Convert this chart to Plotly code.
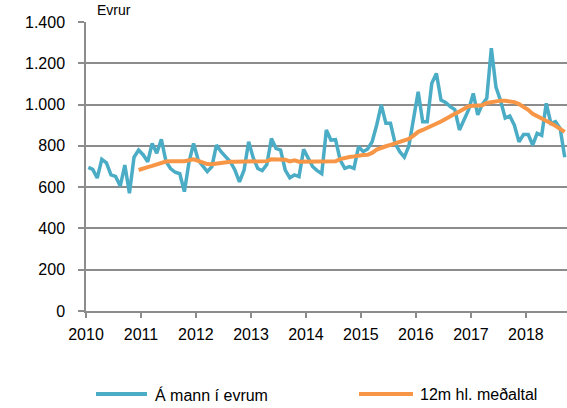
import pandas as pd
import plotly.graph_objects as go

# ---- data (monthly, Jan 2010 - Sep 2018) ----
months = pd.date_range("2010-01-01", periods=105, freq="MS")

per_person = [
    # 2010
    696, 686, 644, 735, 718, 659, 652, 605, 707, 570, 745, 780,
    # 2011
    756, 723, 812, 764, 832, 725, 690, 672, 665, 578, 720, 812,
    # 2012
    731, 700, 675, 699, 804, 772, 745, 723, 683, 626, 683, 820,
    # 2013
    740, 690, 680, 710, 836, 788, 780, 683, 645, 659, 651, 783,
    # 2014
    740, 699, 680, 665, 877, 828, 830, 731, 691, 699, 691, 796,
    # 2015
    772, 785, 820, 901, 998, 909, 909, 812, 772, 745, 800, 930,
    # 2016
    1062, 917, 917, 1103, 1151, 1022, 1010, 990, 976, 877, 930, 975,
    # 2017
    1054, 950, 1000, 1030, 1273, 1085, 1020, 935, 945, 900, 820, 855,
    # 2018
    855, 804, 861, 851, 1006, 909, 917, 885, 745,
]

moving_avg = [None] * 11 + [
    683,
    # 2011
    688, 697, 703, 710, 714, 724, 725, 725, 725, 726, 730, 735,
    # 2012
    727, 720, 712, 711, 715, 718, 721, 723, 723, 723, 723, 724,
    # 2013
    724, 724, 725, 726, 735, 735, 734, 733, 725, 730, 723, 723,
    # 2014
    723, 722, 722, 722, 722, 723, 725, 736, 742, 746, 749, 754,
    # 2015
    756, 757, 766, 782, 792, 798, 805, 812, 819, 826, 834, 850,
    # 2016
    868, 877, 886, 897, 909, 918, 930, 940, 955, 966, 980, 992,
    # 2017
    994, 995, 997, 1008, 1013, 1017, 1019, 1018, 1017, 1012, 1003, 990,
    # 2018
    975, 955, 945, 935, 922, 910, 897, 882, 868,
]

y_tickvals = [0, 200, 400, 600, 800, 1000, 1200, 1400]
y_ticktext = ["0", "200", "400", "600", "800", "1.000", "1.200", "1.400"]

series_names = ["Á mann í evrum", "12m hl. meðaltal"]
series_colors = ["#4BACC6", "#F79646"]
y_title = "Evrur"

FONT = "Liberation Sans"
GRID = "#8C8C8C"

fig = go.Figure()
fig.add_trace(go.Scatter(
    x=months, y=per_person, mode="lines", name=series_names[0],
    xperiod="M1", xperiodalignment="middle",
    line=dict(color=series_colors[0], width=3.5), showlegend=False,
))
fig.add_trace(go.Scatter(
    x=months, y=moving_avg, mode="lines", name=series_names[1],
    xperiod="M1", xperiodalignment="middle",
    line=dict(color=series_colors[1], width=4), showlegend=False,
))

fig.update_layout(
    width=567, height=408,
    margin=dict(l=86, r=0, t=22, b=97, autoexpand=False),
    paper_bgcolor="white", plot_bgcolor="white",
    font=dict(family=FONT, size=16, color="#000000"),
    xaxis=dict(
        type="date",
        range=["2010-01-01", "2018-10-01"],
        tick0="2010-01-01", dtick="M12", tickformat="%Y",
        showgrid=False, zeroline=False, automargin=False,
        showline=True, linecolor=GRID, linewidth=1.5,
        ticks="outside", ticklen=5, tickwidth=1.5, tickcolor=GRID,
        ticklabelstandoff=3,
        tickfont=dict(family=FONT, size=16, color="#000000"),
    ),
    yaxis=dict(
        range=[0, 1400], automargin=False,
        tickmode="array", tickvals=y_tickvals, ticktext=y_ticktext,
        showgrid=True, gridcolor=GRID, gridwidth=1.5,
        zeroline=False,
        showline=True, linecolor=GRID, linewidth=1.5,
        ticks="outside", ticklen=6, tickwidth=1.5, tickcolor=GRID,
        ticklabelstandoff=10,
        tickfont=dict(family=FONT, size=16, color="#000000"),
    ),
)

# axis unit label
fig.add_annotation(
    text=y_title, xref="paper", yref="paper", x=0.0187, y=1.0415,
    xanchor="left", yanchor="middle", showarrow=False,
    font=dict(family=FONT, size=14, color="#000000"),
)

# legend drawn beneath the chart
legend_items = [
    (series_names[0], series_colors[0], 0.0208, 0.1268, 0.1393),
    (series_names[1], series_colors[1], 0.5676, 0.6798, 0.6902),
]
for name, color, x0, x1, xt in legend_items:
    fig.add_shape(type="line", xref="paper", yref="paper",
                  x0=x0, x1=x1, y0=-0.2872, y1=-0.2872,
                  line=dict(color=color, width=4))
    fig.add_annotation(text=name, xref="paper", yref="paper",
                       x=xt, y=-0.2890, xanchor="left", yanchor="middle",
                       showarrow=False,
                       font=dict(family=FONT, size=16, color="#000000"))

fig.write_html(
    "out.html",
    config={"displayModeBar": False},
    post_script="document.body.style.margin='0';document.body.style.padding='0';",
)
